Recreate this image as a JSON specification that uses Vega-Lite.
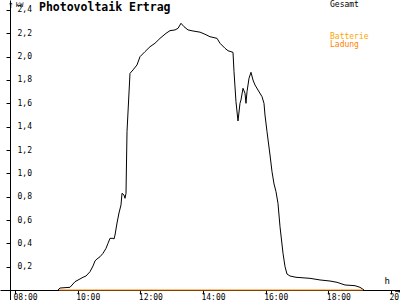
{
  "$schema": "https://vega.github.io/schema/vega-lite/v6.json",
  "width": 400,
  "height": 300,
  "autosize": "none",
  "padding": 0,
  "background": "white",
  "config": {"view": {"stroke": null}, "font": "DejaVu Sans Mono"},
  "title": {"text": "Photovoltaik Ertrag", "anchor": "start", "frame": "group", "orient": "top", "offset": 0, "dx": 39, "dy": 23, "baseline": "alphabetic", "font": "DejaVu Sans Mono", "fontSize": 11.5, "fontWeight": "bold", "color": "black"},
  "data": {"values": [
    {"h": 9.372, "kW": 0, "serie": "Gesamt"},
    {"h": 9.436, "kW": 0.017, "serie": "Gesamt"},
    {"h": 9.755, "kW": 0.023, "serie": "Gesamt"},
    {"h": 9.915, "kW": 0.071, "serie": "Gesamt"},
    {"h": 10.170, "kW": 0.109, "serie": "Gesamt"},
    {"h": 10.266, "kW": 0.120, "serie": "Gesamt"},
    {"h": 10.394, "kW": 0.157, "serie": "Gesamt"},
    {"h": 10.490, "kW": 0.206, "serie": "Gesamt"},
    {"h": 10.553, "kW": 0.249, "serie": "Gesamt"},
    {"h": 10.617, "kW": 0.266, "serie": "Gesamt"},
    {"h": 10.713, "kW": 0.285, "serie": "Gesamt"},
    {"h": 10.809, "kW": 0.315, "serie": "Gesamt"},
    {"h": 10.905, "kW": 0.357, "serie": "Gesamt"},
    {"h": 10.968, "kW": 0.400, "serie": "Gesamt"},
    {"h": 11.032, "kW": 0.443, "serie": "Gesamt"},
    {"h": 11.128, "kW": 0.443, "serie": "Gesamt"},
    {"h": 11.160, "kW": 0.437, "serie": "Gesamt"},
    {"h": 11.192, "kW": 0.471, "serie": "Gesamt"},
    {"h": 11.256, "kW": 0.574, "serie": "Gesamt"},
    {"h": 11.319, "kW": 0.660, "serie": "Gesamt"},
    {"h": 11.383, "kW": 0.729, "serie": "Gesamt"},
    {"h": 11.415, "kW": 0.829, "serie": "Gesamt"},
    {"h": 11.479, "kW": 0.814, "serie": "Gesamt"},
    {"h": 11.511, "kW": 0.786, "serie": "Gesamt"},
    {"h": 11.543, "kW": 0.829, "serie": "Gesamt"},
    {"h": 11.575, "kW": 1.357, "serie": "Gesamt"},
    {"h": 11.670, "kW": 1.857, "serie": "Gesamt"},
    {"h": 11.766, "kW": 1.886, "serie": "Gesamt"},
    {"h": 11.894, "kW": 1.929, "serie": "Gesamt"},
    {"h": 11.990, "kW": 2.000, "serie": "Gesamt"},
    {"h": 12.149, "kW": 2.043, "serie": "Gesamt"},
    {"h": 12.309, "kW": 2.085, "serie": "Gesamt"},
    {"h": 12.469, "kW": 2.115, "serie": "Gesamt"},
    {"h": 12.628, "kW": 2.157, "serie": "Gesamt"},
    {"h": 12.820, "kW": 2.200, "serie": "Gesamt"},
    {"h": 12.947, "kW": 2.223, "serie": "Gesamt"},
    {"h": 13.107, "kW": 2.229, "serie": "Gesamt"},
    {"h": 13.203, "kW": 2.243, "serie": "Gesamt"},
    {"h": 13.298, "kW": 2.286, "serie": "Gesamt"},
    {"h": 13.394, "kW": 2.257, "serie": "Gesamt"},
    {"h": 13.522, "kW": 2.229, "serie": "Gesamt"},
    {"h": 13.681, "kW": 2.220, "serie": "Gesamt"},
    {"h": 13.905, "kW": 2.210, "serie": "Gesamt"},
    {"h": 14.064, "kW": 2.192, "serie": "Gesamt"},
    {"h": 14.224, "kW": 2.171, "serie": "Gesamt"},
    {"h": 14.447, "kW": 2.157, "serie": "Gesamt"},
    {"h": 14.543, "kW": 2.115, "serie": "Gesamt"},
    {"h": 14.702, "kW": 2.072, "serie": "Gesamt"},
    {"h": 14.798, "kW": 2.051, "serie": "Gesamt"},
    {"h": 14.958, "kW": 2.037, "serie": "Gesamt"},
    {"h": 14.990, "kW": 1.871, "serie": "Gesamt"},
    {"h": 15.053, "kW": 1.614, "serie": "Gesamt"},
    {"h": 15.117, "kW": 1.449, "serie": "Gesamt"},
    {"h": 15.181, "kW": 1.600, "serie": "Gesamt"},
    {"h": 15.213, "kW": 1.629, "serie": "Gesamt"},
    {"h": 15.277, "kW": 1.729, "serie": "Gesamt"},
    {"h": 15.341, "kW": 1.686, "serie": "Gesamt"},
    {"h": 15.372, "kW": 1.600, "serie": "Gesamt"},
    {"h": 15.405, "kW": 1.700, "serie": "Gesamt"},
    {"h": 15.469, "kW": 1.815, "serie": "Gesamt"},
    {"h": 15.532, "kW": 1.866, "serie": "Gesamt"},
    {"h": 15.596, "kW": 1.800, "serie": "Gesamt"},
    {"h": 15.660, "kW": 1.757, "serie": "Gesamt"},
    {"h": 15.756, "kW": 1.714, "serie": "Gesamt"},
    {"h": 15.884, "kW": 1.657, "serie": "Gesamt"},
    {"h": 15.947, "kW": 1.600, "serie": "Gesamt"},
    {"h": 15.979, "kW": 1.500, "serie": "Gesamt"},
    {"h": 16.043, "kW": 1.357, "serie": "Gesamt"},
    {"h": 16.139, "kW": 1.157, "serie": "Gesamt"},
    {"h": 16.203, "kW": 1.014, "serie": "Gesamt"},
    {"h": 16.267, "kW": 0.909, "serie": "Gesamt"},
    {"h": 16.330, "kW": 0.843, "serie": "Gesamt"},
    {"h": 16.394, "kW": 0.743, "serie": "Gesamt"},
    {"h": 16.458, "kW": 0.543, "serie": "Gesamt"},
    {"h": 16.554, "kW": 0.315, "serie": "Gesamt"},
    {"h": 16.618, "kW": 0.200, "serie": "Gesamt"},
    {"h": 16.681, "kW": 0.137, "serie": "Gesamt"},
    {"h": 16.777, "kW": 0.120, "serie": "Gesamt"},
    {"h": 16.969, "kW": 0.109, "serie": "Gesamt"},
    {"h": 17.416, "kW": 0.100, "serie": "Gesamt"},
    {"h": 17.735, "kW": 0.086, "serie": "Gesamt"},
    {"h": 18.054, "kW": 0.077, "serie": "Gesamt"},
    {"h": 18.277, "kW": 0.066, "serie": "Gesamt"},
    {"h": 18.533, "kW": 0.043, "serie": "Gesamt"},
    {"h": 18.852, "kW": 0.037, "serie": "Gesamt"},
    {"h": 19.011, "kW": 0.023, "serie": "Gesamt"},
    {"h": 19.139, "kW": 0, "serie": "Gesamt"},
    {"h": 9.404, "kW": 0, "serie": "Ladung"},
    {"h": 19.107, "kW": 0, "serie": "Ladung"}
  ]},
  "resolve": {"axis": {"x": "independent", "y": "independent"}},
  "layer": [
    {
      "transform": [{"filter": "datum.serie === 'Gesamt'"}],
      "mark": {"type": "line", "strokeWidth": 1, "clip": true},
      "encoding": {
        "x": {
          "field": "h", "type": "quantitative",
          "scale": {"domain": [7.521, 20.288], "nice": false, "zero": false},
          "axis": {
            "orient": "bottom", "offset": -10, "values": [8, 10, 12, 14, 16, 18, 20],
            "labelExpr": "(datum.value < 10 ? '0' : '') + datum.value + ':00'",
            "grid": false, "domainColor": "black", "tickColor": "black", "tickSize": 4,
            "labelAlign": "left", "labelBaseline": "top", "labelPadding": -1, "labelOffset": -2,
            "labelFont": "DejaVu Sans Mono", "labelFontSize": 8, "labelColor": "black",
            "labelFlush": false, "labelOverlap": false, "labelBound": false,
            "title": "h", "titleFont": "DejaVu Sans Mono", "titleFontSize": 9, "titleFontWeight": "normal", "titleColor": "black",
            "titleX": 384, "titleY": -7, "titleAlign": "left", "titleBaseline": "alphabetic", "titleAnchor": null
          }
        },
        "y": {
          "field": "kW", "type": "quantitative",
          "scale": {"domain": [-0.0857, 2.4857], "nice": false, "zero": false},
          "axis": {
            "orient": "left", "offset": -10, "values": [0.2, 0.4, 0.6, 0.8, 1.0, 1.2, 1.4, 1.6, 1.8, 2.0, 2.2, 2.4],
            "labelExpr": "replace(format(datum.value, '.1f'), '.', ',')",
            "grid": false, "domainColor": "black", "tickColor": "black", "tickSize": 4,
            "labelAlign": "left", "labelBaseline": "middle", "labelPadding": -11,
            "labelFont": "DejaVu Sans Mono", "labelFontSize": 8, "labelColor": "black",
            "labelFlush": false, "labelOverlap": false, "labelBound": false,
            "title": "kW", "titleFont": "DejaVu Sans Mono", "titleFontSize": 6.5, "titleFontWeight": "normal", "titleColor": "black",
            "titleAngle": 0, "titleX": 5, "titleY": 6.5, "titleAlign": "left", "titleBaseline": "alphabetic", "titleAnchor": null
          }
        },
        "color": {"field": "serie", "type": "nominal"}
      }
    },
    {
      "transform": [{"filter": "datum.serie === 'Ladung'"}],
      "mark": {"type": "line", "strokeWidth": 1, "clip": true},
      "encoding": {
        "x": {
          "field": "h", "type": "quantitative",
          "axis": {
            "orient": "bottom", "offset": -10, "domain": false, "ticks": false, "labels": false, "grid": false,
            "title": "→", "titleFont": "DejaVu Sans Mono", "titleFontSize": 10, "titleFontWeight": "normal", "titleColor": "black",
            "titleX": 400, "titleY": 3.5, "titleAlign": "right", "titleBaseline": "alphabetic", "titleAnchor": null
          }
        },
        "y": {
          "field": "kW", "type": "quantitative",
          "axis": {
            "orient": "left", "offset": -10, "domain": false, "ticks": false, "labels": false, "grid": false,
            "title": "↑", "titleFont": "DejaVu Sans Mono", "titleFontSize": 10, "titleFontWeight": "normal", "titleColor": "black",
            "titleAngle": 0, "titleX": 0, "titleY": 7, "titleAlign": "center", "titleBaseline": "alphabetic", "titleAnchor": null
          }
        },
        "color": {"field": "serie", "type": "nominal"}
      }
    }
  ],
  "encoding": {
    "color": {
      "field": "serie", "type": "nominal",
      "scale": {"domain": ["Gesamt", " ", "  ", "   ", "Batterie", "Ladung"], "range": ["#000000", "#ffffff", "#ffffff", "#ffffff", "#ffa500", "#ff8000"]},
      "legend": {
        "orient": "none", "legendX": 322, "legendY": 1, "title": null,
        "values": ["Gesamt", " ", "  ", "   ", "Batterie", "Ladung"],
        "symbolSize": 0, "symbolOpacity": 0, "symbolStrokeWidth": 0, "labelOffset": 0,
        "labelFont": "DejaVu Sans Mono", "labelFontSize": 8, "rowPadding": 0, "padding": 0,
        "encode": {"labels": {"update": {"fill": {"signal": "datum.value === 'Gesamt' ? '#000000' : datum.value === 'Batterie' ? '#ffa500' : '#ff8000'"}, "opacity": {"value": 1}}}}
      }
    }
  }
}
